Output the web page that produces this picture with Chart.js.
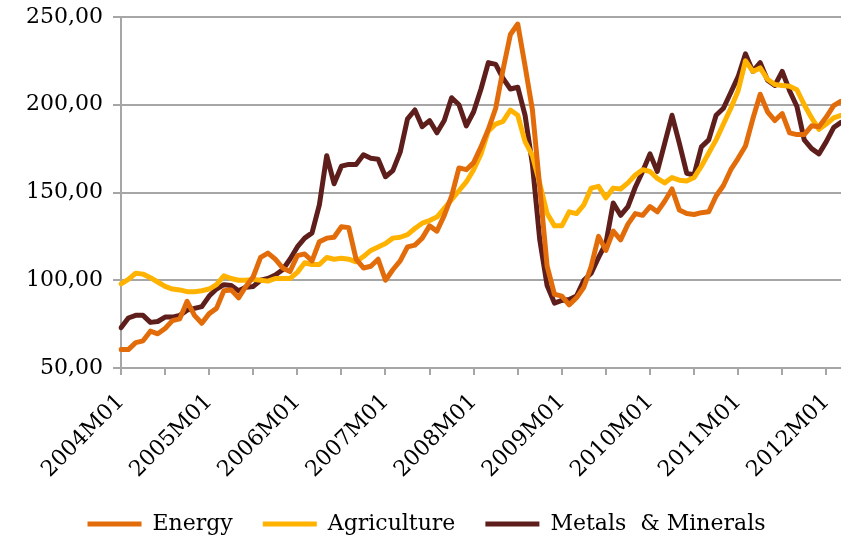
<!DOCTYPE html>
<html>
<head>
<meta charset="utf-8">
<script src="https://cdn.jsdelivr.net/npm/chart.js@4.4.1/dist/chart.umd.min.js"></script>
<style>
html, body { margin: 0; padding: 0; background: #fff; overflow: hidden; }
#wrap { width: 841px; height: 540px; }
</style>
</head>
<body>
<div id="wrap"><canvas id="grafico"></canvas></div>
<script>
// --- DATOS (índice 2004M01 = 100 aprox.) ---
const anioInicio = 2004;
const totalMeses = 99; // 2004M01 .. 2012M03

const energy = [
  60.5, 60.5, 64.5, 65.5, 71, 69.5, 72.5, 77, 78, 88,
  80, 75.5, 81, 84, 94, 94.5, 90, 96.5, 102, 113,
  115.5, 112, 107, 105, 114, 115, 111, 122, 124, 124.5,
  130.5, 130, 112, 107, 108, 112, 100, 106, 111, 119,
  120, 124, 131, 128, 137, 148, 164, 163, 167, 176,
  186, 198, 220, 240, 246, 222, 197, 153, 108, 92,
  91, 86, 90, 96, 108, 125, 117, 128, 123, 132,
  138, 137, 142, 139, 145, 152, 140, 138, 137.5, 138.5,
  139, 148, 154, 163, 169.5, 176.5, 192, 206, 196, 191,
  195, 184, 183, 183, 188, 187.5, 193, 199.5, 202
];
const agriculture = [
  98, 100.5, 104, 103.5, 101.5, 99, 96.5, 95, 94.5, 93.5,
  93.5, 94, 95, 97.5, 102.5, 101, 100, 100, 100.5, 100,
  99.5, 101, 101, 101, 104.5, 110, 109, 109, 113, 112,
  112.5, 112, 110.5, 113.5, 117, 119, 121, 124, 124.5, 126,
  129.5, 132.5, 134, 136, 141, 146, 151, 156, 163, 172,
  185, 189, 190.5, 197, 194, 179, 171, 155, 138, 131,
  131, 139, 138, 143, 152.5, 153.5, 147, 152.5, 152, 155.5,
  160, 163, 162, 158, 155.5, 158.5, 157, 156.5, 158.5, 165,
  172.5, 180, 189, 198, 208, 225, 219, 221, 214.5, 211.5,
  211, 210.5, 208.5, 200, 192.5, 186, 189, 192.5, 194
];
const metals = [
  73, 78.5, 80, 80, 76, 76.5, 79, 79, 80, 83,
  84, 85, 91, 95, 97.5, 97, 94, 96, 96.5, 100,
  101, 103, 106, 112, 119, 124, 127, 143, 171, 155,
  165, 166, 166, 171.5, 169.5, 169, 159, 162.5, 173, 192,
  197, 187.5, 191, 184, 191, 204, 200, 188, 196, 209,
  224, 223, 215, 209, 210, 194, 166, 123, 97, 87,
  88.5, 89, 91, 100, 104, 113, 121, 144, 137, 142,
  153, 162, 172, 162, 178, 194, 178, 161, 160, 176,
  180, 194, 198, 207, 216, 229, 219, 224, 214, 211,
  219, 208, 199, 180, 175, 172, 179, 187, 190
];

// Categorías mensuales "2004M01", "2004M02", ...
const meses = [];
for (let i = 0; i < totalMeses; i++) {
  const anio = anioInicio + Math.floor(i / 12);
  const mes = (i % 12) + 1;
  meses.push(anio + 'M' + String(mes).padStart(2, '0'));
}

const GRIS = '#A6A6A6';
Chart.defaults.font.family = "'DejaVu Serif', serif";
Chart.defaults.font.size = 22;
Chart.defaults.color = '#000';

function serie(nombre, datos, color) {
  return {
    label: nombre,
    data: datos,
    borderColor: color,
    backgroundColor: color,
    borderWidth: 5,
    borderCapStyle: 'round',
    borderJoinStyle: 'round',
    pointRadius: 0,
    tension: 0
  };
}

const ctx = document.getElementById('grafico').getContext('2d');
new Chart(ctx, {
  type: 'line',
  data: {
    labels: meses,
    datasets: [
      serie('Energy', energy, '#E36C0A'),
      serie('Agriculture', agriculture, '#FFB200'),
      serie('Metals  & Minerals', metals, '#5E1F1C')
    ]
  },
  options: {
    responsive: true,
    maintainAspectRatio: false,
    animation: false,
    layout: { padding: { top: 17, left: 12, right: 0, bottom: -5 } },
    plugins: {
      tooltip: { enabled: false },
      legend: {
        position: 'bottom',
        labels: {
          usePointStyle: true,
          pointStyle: 'line',
          pointStyleWidth: 54,
          padding: 30,
          color: '#000'
        }
      }
    },
    scales: {
      x: {
        type: 'category',
        offset: false,
        afterFit: (escala) => {
          escala.paddingLeft = 0;
          escala.paddingRight = 0;
          escala.height -= 14;
        },
        grid: { drawOnChartArea: false, drawTicks: true, tickLength: 7, color: GRIS, lineWidth: 2 },
        border: { color: GRIS, width: 2 },
        ticks: {
          autoSkip: false,
          maxRotation: 45,
          minRotation: 45,
          padding: 14,
          callback: function (valor, i) {
            if (i % 12 === 0) return this.getLabelForValue(valor);
            if (i % 6 === 0) return '';
            return null;
          }
        }
      },
      y: {
        min: 50,
        max: 250,
        afterFit: (escala) => {
          escala.width = 109;
          escala.paddingTop = 0;
          escala.paddingBottom = 0;
        },
        grid: { color: GRIS, lineWidth: 2, tickLength: 8 },
        border: { color: GRIS, width: 2 },
        ticks: {
          stepSize: 50,
          padding: 10,
          callback: (v) => v.toFixed(2).replace('.', ',')
        }
      }
    }
  }
});
</script>
</body>
</html>
